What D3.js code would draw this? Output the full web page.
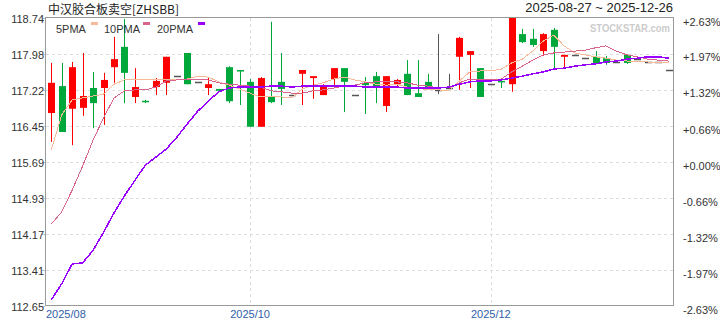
<!DOCTYPE html>
<html>
<head>
<meta charset="utf-8">
<script src="https://cdn.jsdelivr.net/npm/d3@7/dist/d3.min.js"></script>
<style>
    body { margin: 0; background: #fff; }
    svg text { font-family: Arial, "Liberation Sans", sans-serif; }
</style>
</head>
<body>
<svg id="chart" width="720" height="320"></svg>
<script>
// ---- data ----
var titleText = "中汉胶合板卖空[ZHSBB]";
var rangeText = "2025-08-27 ~ 2025-12-26";

var openData  = [116.73,117.30,116.82,116.84,117.26,117.26,117.70,118.13,117.07,116.99,
                 117.28,117.37,117.51,118.00,117.39,117.26,117.24,117.70,117.64,117.39,
                 116.44,117.07,117.39,117.11,117.56,117.47,117.11,117.45,117.68,117.11,
                 117.37,117.51,116.88,117.34,117.56,117.15,117.39,117.22,117.26,117.92,
                 117.96,117.68,117.34,117.41,117.34,118.40,118.30,118.04,118.49,117.92,
                 117.96,117.89,117.92,117.89,117.81,117.96,117.87,117.81,117.81,117.64];
var highData  = [117.79,117.79,117.81,118.00,117.60,117.58,118.34,118.72,117.68,117.01,
                 117.47,117.92,117.51,118.00,117.39,117.49,117.24,117.72,117.64,117.45,
                 117.49,118.66,118.00,117.11,117.64,117.51,117.34,117.68,117.68,117.11,
                 117.49,117.60,117.51,117.45,117.85,117.85,117.56,118.40,117.56,118.34,
                 118.04,117.68,117.34,117.41,118.74,118.51,118.51,118.42,118.53,117.96,
                 117.96,117.89,118.04,117.94,117.81,117.96,117.87,117.81,117.81,117.64];
var lowData   = [116.12,116.33,116.05,116.67,116.41,116.48,117.37,116.94,116.94,116.94,
                 117.11,117.11,117.51,117.34,117.39,117.11,117.20,116.94,116.90,116.44,
                 116.44,116.94,116.90,117.11,116.90,117.03,117.11,117.28,116.75,117.11,
                 116.71,116.94,116.75,117.30,117.11,117.07,117.24,117.13,117.24,117.22,
                 117.26,117.07,117.34,117.26,117.18,118.21,118.13,117.94,117.66,117.68,
                 117.96,117.89,117.77,117.75,117.81,117.77,117.87,117.81,117.81,117.64];
var closeData = [117.37,116.33,117.70,117.09,116.94,117.43,117.87,117.58,117.28,116.98,
                 117.41,117.92,117.51,117.34,117.39,117.34,117.20,116.98,117.62,116.44,
                 117.47,116.96,117.24,117.11,117.64,117.51,117.32,117.68,117.39,117.11,
                 117.32,117.28,117.51,117.43,117.11,117.07,117.28,117.22,117.26,118.32,
                 118.04,117.07,117.34,117.39,118.74,118.23,118.17,118.40,118.13,117.96,
                 117.96,117.89,117.79,117.79,117.81,117.79,117.87,117.81,117.81,117.64];

var ma5  = [115.95,116.69,117.01,117.05,117.09,117.13,117.34,117.43,117.43,117.43,
            117.43,117.43,117.45,117.45,117.51,117.49,117.39,117.32,117.24,117.15,
            117.07,117.07,117.07,117.05,117.24,117.32,117.37,117.45,117.49,117.43,
            117.39,117.34,117.32,117.34,117.28,117.26,117.22,117.22,117.20,117.41,
            117.60,117.62,117.62,117.66,117.79,117.87,118.04,118.25,118.38,118.15,
            118.00,117.96,117.92,117.89,117.85,117.83,117.81,117.81,117.79,117.79];
var ma10 = [114.38,114.64,115.10,115.61,116.16,116.63,117.05,117.20,117.22,117.22,
            117.28,117.41,117.43,117.45,117.45,117.43,117.37,117.34,117.32,117.30,
            117.28,117.20,117.18,117.15,117.15,117.20,117.22,117.26,117.30,117.32,
            117.37,117.39,117.39,117.39,117.37,117.32,117.30,117.26,117.26,117.37,
            117.45,117.45,117.45,117.45,117.60,117.72,117.85,117.96,118.00,118.02,
            118.04,118.06,118.11,118.15,118.04,117.96,117.92,117.87,117.85,117.83];
var ma20 = [112.78,113.12,113.54,113.56,113.83,114.21,114.62,114.98,115.31,115.63,
            115.80,115.97,116.22,116.50,116.77,116.98,117.18,117.26,117.28,117.28,
            117.28,117.30,117.30,117.28,117.30,117.30,117.30,117.30,117.30,117.30,
            117.28,117.28,117.28,117.28,117.26,117.26,117.26,117.26,117.28,117.34,
            117.39,117.41,117.41,117.43,117.47,117.51,117.56,117.60,117.66,117.68,
            117.72,117.75,117.77,117.81,117.83,117.87,117.89,117.92,117.92,117.89];

var yTickLabels = ["118.74","117.98","117.22","116.45","115.69","114.93","114.17","113.41","112.65"];
var pctLabels = ["+2.63%","+1.97%","+1.32%","+0.66%","+0.00%","-0.66%","-1.32%","-1.97%","-2.63%"];
var monthIndex = [0, 19, 42];
var monthLabels = ["2025/08", "2025/10", "2025/12"];
var legendNames = ["5PMA", "10PMA", "20PMA"];

// ---- layout ----
var LEFT = 46, RIGHT = 674, TOP = 18, BOTTOM = 306;
var UP = "#ff0000", DOWN = "#00a83c", FLAT = "#555555";
var MA_COLORS = ["#f6ba98", "#d8638c", "#9900ff"];

var svg = d3.select("#chart");

var x = d3.scaleBand()
    .domain(d3.range(openData.length))
    .range([LEFT, RIGHT])
    .paddingInner(0.33)
    .paddingOuter(0.165);

var y = d3.scaleLinear()
    .domain([112.65, 118.74])
    .range([BOTTOM, TOP]);

function cx(i) { return x(i) + x.bandwidth() / 2; }

// grid
var gGrid = svg.append("g");
yTickLabels.forEach(function (t, k) {
    if (k == 0 || k == yTickLabels.length - 1) return;
    var yy = Math.round(y(+t)) + 0.5;
    gGrid.append("line")
        .attr("x1", LEFT).attr("x2", RIGHT)
        .attr("y1", yy).attr("y2", yy)
        .attr("stroke", "#dddddd")
        .attr("stroke-dasharray", "3,3");
});
monthIndex.forEach(function (i, k) {
    if (k == 0) return;
    var xx = Math.round(cx(i)) + 0.5;
    gGrid.append("line")
        .attr("x1", xx).attr("x2", xx)
        .attr("y1", TOP).attr("y2", BOTTOM)
        .attr("stroke", "#dddddd")
        .attr("stroke-dasharray", "3,3");
});

// watermark
svg.append("text")
    .attr("x", 590)
    .attr("y", 32)
    .attr("fill", "#cccccc")
    .attr("font-size", "11")
    .attr("font-weight", "bold")
    .attr("textLength", 80)
    .attr("lengthAdjust", "spacingAndGlyphs")
    .text("STOCKSTAR.com");

// clip for plot
svg.append("clipPath").attr("id", "plotclip")
    .append("rect")
    .attr("x", LEFT).attr("y", TOP)
    .attr("width", RIGHT - LEFT).attr("height", BOTTOM - TOP);

var gPlot = svg.append("g").attr("clip-path", "url(#plotclip)");

// candles
var bw = 7;
d3.range(openData.length).forEach(function (i) {
    var o = openData[i], h = highData[i], l = lowData[i], c = closeData[i];
    var col = c > o ? UP : (c < o ? DOWN : FLAT);
    var xm = Math.round(cx(i));
    var x0 = xm - 3;
    if (h != l) {
        gPlot.append("line")
            .attr("x1", xm + 0.5).attr("x2", xm + 0.5)
            .attr("y1", y(h)).attr("y2", y(l))
            .attr("stroke", col)
            .attr("stroke-width", 1);
    }
    if (c == o) {
        gPlot.append("line")
            .attr("x1", x0).attr("x2", x0 + bw)
            .attr("y1", Math.round(y(c)) + 0.5).attr("y2", Math.round(y(c)) + 0.5)
            .attr("stroke", col)
            .attr("stroke-width", 1.5);
    } else {
        var top = y(Math.max(o, c)), bot = y(Math.min(o, c));
        gPlot.append("rect")
            .attr("x", x0)
            .attr("y", top)
            .attr("width", bw)
            .attr("height", Math.max(1.5, bot - top))
            .attr("fill", col);
    }
});

// moving averages (aliased, thin like the original)
var line = d3.line()
    .x(function (d, i) { return cx(i); })
    .y(function (d) { return y(d); });

[ma5, ma10, ma20].forEach(function (arr, k) {
    gPlot.append("path")
        .attr("d", line(arr))
        .attr("fill", "none")
        .attr("stroke", MA_COLORS[k])
        .attr("shape-rendering", "crispEdges")
        .attr("stroke-width", k == 2 ? 1.5 : 1);
});

// frame
svg.append("rect")
    .attr("x", LEFT - 0.5)
    .attr("y", TOP - 0.5)
    .attr("width", RIGHT - LEFT)
    .attr("height", BOTTOM - TOP)
    .attr("fill", "none")
    .attr("stroke", "#999999");

// left axis labels + small ticks, right % labels
yTickLabels.forEach(function (t, k) {
    var yy = y(+t);
    svg.append("line")
        .attr("x1", LEFT - 4).attr("x2", LEFT - 1)
        .attr("y1", Math.round(yy) + 0.5).attr("y2", Math.round(yy) + 0.5)
        .attr("stroke", "#a9c4dc");
    svg.append("text")
        .attr("x", LEFT - 2)
        .attr("y", yy + 5)
        .attr("text-anchor", "end")
        .attr("font-size", "11")
        .attr("fill", "#333333")
        .text(t);
    svg.append("text")
        .attr("x", 683)
        .attr("y", yy + 7.5)
        .attr("font-size", "11")
        .attr("fill", "#333333")
        .text(pctLabels[k]);
});

// bottom month labels
monthIndex.forEach(function (i, k) {
    var lbl = svg.append("text")
        .attr("y", 318)
        .attr("font-size", "11")
        .attr("fill", "#2f5ea8")
        .text(monthLabels[k]);
    var w = lbl.node().getComputedTextLength();
    var xx = cx(i) - w / 2;
    if (xx < LEFT) xx = LEFT;
    lbl.attr("x", xx);
});

// title and date range
svg.append("text")
    .attr("x", 48)
    .attr("y", 14)
    .attr("font-size", "12")
    .attr("fill", "#222222")
    .style("font-family", "'Noto Sans CJK SC', Arial, sans-serif")
    .text(titleText);

svg.append("text")
    .attr("x", 673)
    .attr("y", 12)
    .attr("text-anchor", "end")
    .attr("font-size", "13")
    .attr("fill", "#222222")
    .text(rangeText);

// legend
var legX = [56, 104, 157];
var swX = [91, 143, 198];
legendNames.forEach(function (n, k) {
    svg.append("text")
        .attr("x", legX[k])
        .attr("y", 33)
        .attr("font-size", "11")
        .attr("fill", "#333333")
        .text(n);
    svg.append("rect")
        .attr("x", swX[k])
        .attr("y", 22)
        .attr("width", 7)
        .attr("height", 3)
        .attr("fill", MA_COLORS[k]);
});
</script>
</body>
</html>
